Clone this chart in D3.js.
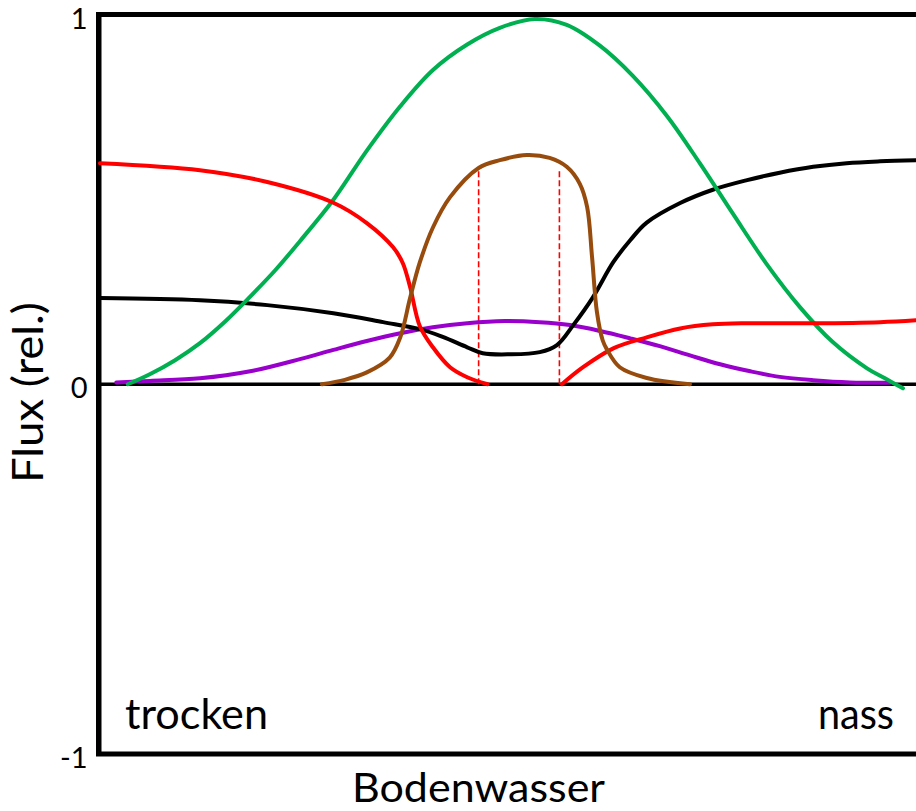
<!DOCTYPE html>
<html>
<head>
<meta charset="utf-8">
<script src="https://cdn.jsdelivr.net/npm/d3@7"></script>
<style>
  body { margin: 0; background: #fff; }
  text { font-family: Lato, "Open Sans", sans-serif; fill: #000; }
</style>
</head>
<body>
<svg width="916" height="811"></svg>
<script>
// x: Bodenwasser (0 = trocken, 100 = nass), y: Flux (rel.)
var greenX  = [3.4, 6.1, 9.2, 12.25, 15.3, 18.4, 21.5, 24.5, 28.6, 32.7, 36.8, 40.8, 45.0, 49.0, 53.3, 57.2, 61.3, 65.3, 69.5, 73.5, 77.6, 81.7, 85.8, 89.8, 94.0, 96.2, 98.4];
var greenY  = [0, 0.027, 0.065, 0.111, 0.169, 0.237, 0.309, 0.387, 0.499, 0.632, 0.752, 0.850, 0.919, 0.964, 0.988, 0.972, 0.915, 0.834, 0.725, 0.598, 0.460, 0.325, 0.208, 0.114, 0.043, 0.016, -0.011];

var redLeftX  = [0, 12.25, 20.5, 28.6, 32.7, 35.9, 37.1, 38.0, 39.2, 40.8, 42.9, 45.0, 47.5];
var redLeftY  = [0.598, 0.579, 0.547, 0.491, 0.436, 0.371, 0.328, 0.263, 0.157, 0.100, 0.046, 0.019, 0];
var redRightX = [56.6, 59.2, 62.9, 67.0, 71.1, 75.1, 79.3, 87.4, 95.6, 100];
var redRightY = [0, 0.046, 0.097, 0.127, 0.151, 0.162, 0.165, 0.165, 0.168, 0.173];

var blackX = [0, 12.25, 20.5, 28.6, 34.7, 39.2, 42.0, 45.0, 46.9, 50.2, 53.9, 56.0, 58.0, 60.4, 62.9, 65.0, 67.0, 71.1, 75.1, 79.3, 83.3, 87.4, 91.5, 95.6, 100];
var blackY = [0.233, 0.227, 0.214, 0.192, 0.168, 0.149, 0.128, 0.100, 0.084, 0.081, 0.087, 0.106, 0.160, 0.235, 0.330, 0.390, 0.437, 0.490, 0.526, 0.552, 0.572, 0.588, 0.598, 0.603, 0.606];

var purpleX = [2.0, 6.1, 12.25, 18.4, 24.5, 28.6, 32.7, 36.8, 40.8, 45.0, 49.6, 53.9, 57.6, 61.3, 65.0, 68.6, 72.3, 76.0, 79.7, 83.3, 87.4, 91.9, 96.8];
var purpleY = [0.005, 0.009, 0.016, 0.035, 0.068, 0.093, 0.117, 0.138, 0.154, 0.165, 0.171, 0.168, 0.160, 0.144, 0.124, 0.103, 0.078, 0.054, 0.035, 0.020, 0.011, 0.005, 0.004];

var brownX = [27.2, 30.0, 32.7, 35.5, 36.8, 38.0, 39.2, 40.8, 42.9, 46.4, 49.0, 52.3, 55.1, 57.2, 58.8, 59.7, 60.3, 60.9, 61.6, 62.1, 63.7, 67.0, 72.3];
var brownY = [0, 0.012, 0.032, 0.072, 0.127, 0.233, 0.330, 0.424, 0.506, 0.585, 0.606, 0.620, 0.612, 0.588, 0.542, 0.479, 0.344, 0.195, 0.119, 0.095, 0.046, 0.017, 0];

// dashed red markers
var markX = [46.4, 56.3];
var markTop = [0.585, 0.579];

var yTicks = [1, 0, -1];
var cornerLabels = ['trocken', 'nass'];

var svg = d3.select('svg');
var x = d3.scaleLinear().domain([0, 100]).range([100, 916]);
var y = d3.scaleLinear().domain([-1, 1]).range([754, 14.5]);

function zip(xs, ys) { return xs.map(function(d, i) { return [d, ys[i]]; }); }

var line = d3.line()
    .x(function(d) { return x(d[0]); })
    .y(function(d) { return y(d[1]); })
    .curve(d3.curveCatmullRom.alpha(0.5));

// frame: top and bottom lines
svg.append('path')
   .attr('d', 'M' + x(100) + ',' + y(1) + 'H' + (x(0) - 1.5) + 'V' + y(-1) + 'H' + x(100))
   .attr('fill', 'none')
   .attr('stroke', '#000')
   .attr('stroke-width', 5);

// zero line
svg.append('line')
   .attr('x1', x(0)).attr('x2', x(100))
   .attr('y1', y(0)).attr('y2', y(0))
   .attr('stroke', '#000')
   .attr('stroke-width', 3.5);

// y axis
var yAxis = svg.append('g')
   .attr('transform', 'translate(' + (x(0) - 1.5) + ',0)')
   .call(d3.axisLeft(y).tickValues(yTicks).tickSize(0).tickPadding(11)
           .tickFormat(function(d) { return String(d); }));
yAxis.select('.domain').attr('stroke-width', 5);
yAxis.selectAll('text')
   .attr('dy', '0.47em')
   .style('font-size', '29px')
   .style('font-family', 'Lato, "Open Sans", sans-serif');

// dashed markers
svg.selectAll('line.mark')
   .data(markX)
   .enter()
   .append('line')
   .attr('class', 'mark')
   .attr('x1', function(d) { return x(d); })
   .attr('x2', function(d) { return x(d); })
   .attr('y1', y(0))
   .attr('y2', function(d, i) { return y(markTop[i]); })
   .attr('stroke', '#ff0000')
   .attr('stroke-width', 1.6)
   .attr('stroke-dasharray', '6,3');

var series = [
  { xs: purpleX, ys: purpleY, color: '#9900cc' },
  { xs: blackX, ys: blackY, color: '#000000' },
  { xs: greenX, ys: greenY, color: '#00b050' },
  { xs: redLeftX, ys: redLeftY, color: '#ff0000' },
  { xs: redRightX, ys: redRightY, color: '#ff0000' },
  { xs: brownX, ys: brownY, color: '#974c0e' }
];

svg.selectAll('path.curve')
   .data(series)
   .enter()
   .append('path')
   .attr('class', 'curve')
   .attr('d', function(d) { return line(zip(d.xs, d.ys)); })
   .attr('fill', 'none')
   .attr('stroke', function(d) { return d.color; })
   .attr('stroke-width', 4)
   .attr('stroke-linecap', 'round');

// labels
svg.append('text')
   .attr('x', 125).attr('y', 729)
   .attr('textLength', 143).attr('lengthAdjust', 'spacingAndGlyphs')
   .style('font-size', '42px')
   .text(cornerLabels[0]);

svg.append('text')
   .attr('x', 818).attr('y', 729)
   .attr('textLength', 76).attr('lengthAdjust', 'spacingAndGlyphs')
   .style('font-size', '42px')
   .text(cornerLabels[1]);

svg.append('text')
   .attr('x', 478.5).attr('y', 802)
   .attr('text-anchor', 'middle')
   .attr('textLength', 253).attr('lengthAdjust', 'spacingAndGlyphs')
   .style('font-size', '40px')
   .text('Bodenwasser');

svg.append('text')
   .attr('transform', 'translate(43,392.5) rotate(-90)')
   .attr('text-anchor', 'middle')
   .attr('textLength', 181).attr('lengthAdjust', 'spacingAndGlyphs')
   .style('font-size', '42px')
   .text('Flux (rel.)');
</script>
</body>
</html>
